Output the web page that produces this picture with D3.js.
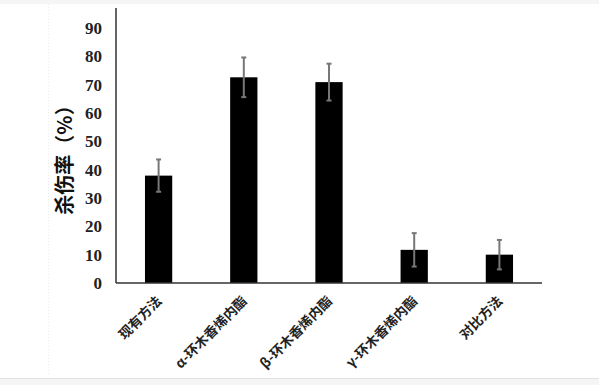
<!DOCTYPE html>
<html>
<head>
<meta charset="utf-8">
<script src="https://cdn.jsdelivr.net/npm/d3@7"></script>
<style>
  html, body { margin: 0; padding: 0; background: #f5f5f5; }
  svg { display: block; }
</style>
</head>
<body>
<svg id="chart" width="599" height="385"></svg>
<script>
// data
const categories = ["现有方法", "α-环木香烯内酯", "β-环木香烯内酯", "γ-环木香烯内酯", "对比方法"];
const values = [37.9, 72.6, 70.9, 11.7, 10.0];
const errors = [5.7, 7.0, 6.5, 5.9, 5.2];
const yTicks = [0, 10, 20, 30, 40, 50, 60, 70, 80, 90];

const svg = d3.select("#chart");
const margin = { left: 116, right: 57, top: 8, bottom: 102 };
const width = 599, height = 385;

// white panel between the grey bands
svg.append("rect").attr("x", 0).attr("y", 4).attr("width", width).attr("height", 374).attr("fill", "#fff");
svg.append("line").attr("x1", 48.5).attr("x2", 48.5).attr("y1", 4).attr("y2", 375)
  .attr("stroke", "#ececec").attr("stroke-dasharray", "1,2");
svg.append("line").attr("x1", 0).attr("x2", width).attr("y1", 378.5).attr("y2", 378.5).attr("stroke", "#e2e2e2");

const x = d3.scaleBand().domain(categories).range([margin.left, width - margin.right]).paddingInner(0.68).paddingOuter(0.34);
const y = d3.scaleLinear().domain([0, 90]).range([283, 28]);

// bars
svg.selectAll(".bar").data(categories).enter().append("rect")
  .attr("class", "bar")
  .attr("x", (d) => x(d))
  .attr("width", x.bandwidth())
  .attr("y", (d, i) => y(values[i]))
  .attr("height", (d, i) => y(0) - y(values[i]))
  .attr("fill", "#000");

// error bars
const eb = svg.selectAll(".err").data(categories).enter().append("g").attr("class", "err")
  .attr("stroke", "#777").attr("stroke-width", 2);
eb.append("line")
  .attr("x1", (d) => x(d) + x.bandwidth() / 2).attr("x2", (d) => x(d) + x.bandwidth() / 2)
  .attr("y1", (d, i) => y(values[i] + errors[i])).attr("y2", (d, i) => y(values[i] - errors[i]));
eb.append("line")
  .attr("x1", (d) => x(d) + x.bandwidth() / 2 - 2.5).attr("x2", (d) => x(d) + x.bandwidth() / 2 + 2.5)
  .attr("y1", (d, i) => y(values[i] + errors[i])).attr("y2", (d, i) => y(values[i] + errors[i]));
eb.append("line")
  .attr("x1", (d) => x(d) + x.bandwidth() / 2 - 2.5).attr("x2", (d) => x(d) + x.bandwidth() / 2 + 2.5)
  .attr("y1", (d, i) => y(values[i] - errors[i])).attr("y2", (d, i) => y(values[i] - errors[i]));

// y axis
const yAxis = svg.append("g").attr("transform", `translate(${margin.left},0)`)
  .call(d3.axisLeft(y).tickValues(yTicks).tickSize(0).tickPadding(14));
yAxis.select(".domain").remove();
yAxis.selectAll("text")
  .attr("font-family", "'Liberation Serif', 'Times New Roman', serif")
  .attr("font-weight", "bold").attr("font-size", 17).attr("fill", "#222");
svg.append("line").attr("x1", margin.left).attr("x2", margin.left).attr("y1", 8).attr("y2", 283)
  .attr("stroke", "#333").attr("stroke-width", 1.5);

// x axis
const xAxis = svg.append("g").attr("transform", "translate(0,283)")
  .call(d3.axisBottom(x).tickSize(0).tickPadding(0));
xAxis.select(".domain").remove();
xAxis.selectAll("text")
  .attr("font-family", "'Noto Sans CJK SC', sans-serif")
  .attr("font-weight", "bold").attr("font-size", 13.5).attr("fill", "#222")
  .attr("text-anchor", "end").attr("dy", 0)
  .attr("transform", "translate(4,19) rotate(-45)");
svg.append("line").attr("x1", margin.left).attr("x2", 542).attr("y1", 283).attr("y2", 283)
  .attr("stroke", "#333").attr("stroke-width", 1.5);

// y axis title
svg.append("text")
  .attr("transform", "translate(72,155) rotate(-90)")
  .attr("text-anchor", "middle")
  .attr("font-family", "'Noto Sans CJK SC', sans-serif")
  .attr("font-weight", "bold").attr("font-size", 20).attr("fill", "#111")
  .text("杀伤率（%）");
</script>
</body>
</html>
